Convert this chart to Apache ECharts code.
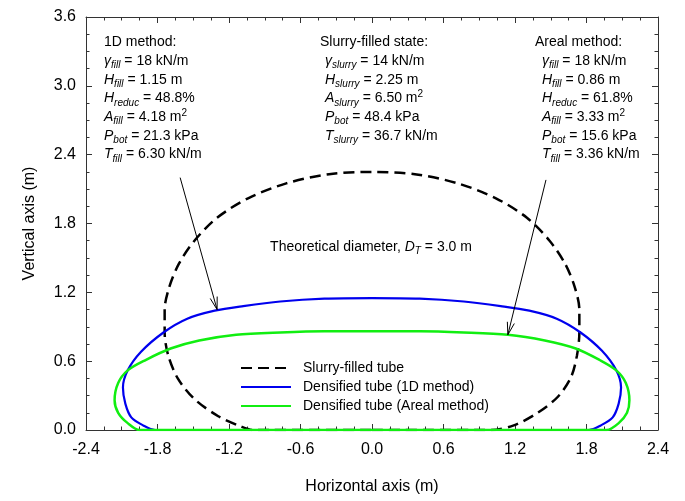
<!DOCTYPE html>
<html>
<head>
<meta charset="utf-8">
<script src="https://cdn.jsdelivr.net/npm/echarts@6/dist/echarts.min.js"></script>
<style>html,body{margin:0;padding:0;background:#fff;}#c{width:685px;height:501px;}</style>
</head>
<body>
<div id="c"></div>
<script>
// ---- data ----
const xTicks = [-2.4, -1.8, -1.2, -0.6, 0.0, 0.6, 1.2, 1.8, 2.4];
const yTicks = [0.0, 0.6, 1.2, 1.8, 2.4, 3.0, 3.6];
const seriesNames = ['Slurry-filled tube', 'Densified tube (1D method)', 'Densified tube (Areal method)'];

const slurryTube = [
  [0.00,0.00],[1.00,0.00],[1.19,0.04],[1.39,0.15],[1.56,0.29],[1.67,0.46],[1.72,0.65],[1.74,0.85],
  [1.74,1.05],[1.70,1.25],[1.62,1.45],[1.49,1.65],[1.30,1.85],[1.04,2.02],[0.72,2.15],[0.36,2.23],
  [0.00,2.25],[-0.36,2.23],[-0.72,2.15],[-1.04,2.02],[-1.30,1.85],[-1.49,1.65],[-1.62,1.45],[-1.70,1.25],
  [-1.74,1.05],[-1.74,0.85],[-1.71,0.65],[-1.63,0.45],[-1.49,0.27],[-1.29,0.12],[-1.10,0.03],[-1.00,0.00],[0.00,0.00]
];
const tube1D = [
  [0.00,0.00],[1.82,0.00],[1.92,0.04],[2.02,0.11],[2.07,0.23],[2.09,0.37],[2.05,0.52],[1.93,0.69],
  [1.75,0.85],[1.55,0.97],[1.32,1.04],[1.08,1.08],[0.77,1.12],[0.40,1.145],[0.00,1.15],
  [-0.40,1.145],[-0.77,1.12],[-1.08,1.08],[-1.32,1.04],[-1.55,0.97],[-1.75,0.85],[-1.94,0.68],
  [-2.05,0.52],[-2.09,0.37],[-2.07,0.23],[-2.02,0.11],[-1.92,0.04],[-1.82,0.00],[0.00,0.00]
];
const tubeAreal = [
  [0.00,0.00],[1.97,0.00],[2.07,0.06],[2.14,0.15],[2.16,0.26],[2.13,0.41],[2.05,0.52],[1.91,0.61],
  [1.71,0.71],[1.45,0.78],[1.14,0.83],[0.77,0.85],[0.40,0.86],[0.00,0.86],
  [-0.40,0.86],[-0.77,0.85],[-1.14,0.83],[-1.45,0.78],[-1.69,0.71],[-1.90,0.61],[-2.05,0.52],
  [-2.13,0.41],[-2.16,0.26],[-2.13,0.15],[-2.05,0.06],[-1.95,0.00],[0.00,0.00]
];
// arrows: [xStart, yStart, xTip, yTip]
const arrows = [
  [-1.61, 2.20, -1.30, 1.05],
  [ 1.46, 2.18,  1.14, 0.83]
];

// ---- styles ----
const F = '"Liberation Sans", Arial, sans-serif';
const LH = 18.7;
const rich = {
  n: {fontSize: 14, fontFamily: F, color: '#000', lineHeight: LH, verticalAlign: 'middle'},
  i: {fontSize: 14, fontFamily: F, color: '#000', fontStyle: 'italic', lineHeight: LH, verticalAlign: 'middle'},
  s: {fontSize: 10, fontFamily: F, color: '#000', fontStyle: 'italic', lineHeight: 9, verticalAlign: 'bottom'},
  p: {fontSize: 10, fontFamily: F, color: '#000', lineHeight: 9, verticalAlign: 'top'}
};
function txt(x, y, text, align) {
  return {type: 'text', x: x, y: y, z: 100,
    style: {text: text, rich: rich, fill: '#000', font: '14px ' + F,
      align: align || 'left', verticalAlign: 'top'}};
}

const block1 = [
  '{n|1D method:}',
  '{i|γ}{s|fill}{n| = 18 kN/m}',
  '{i|H}{s|fill}{n| = 1.15 m}',
  '{i|H}{s|reduc}{n| = 48.8%}',
  '{i|A}{s|fill}{n| = 4.18 m}{p|2}',
  '{i|P}{s|bot}{n| = 21.3 kPa}',
  '{i|T}{s|fill}{n| = 6.30 kN/m}'
].join('\n');
const block2 = [
  '{i|γ}{s|slurry}{n| = 14 kN/m}',
  '{i|H}{s|slurry}{n| = 2.25 m}',
  '{i|A}{s|slurry}{n| = 6.50 m}{p|2}',
  '{i|P}{s|bot}{n| = 48.4 kPa}',
  '{i|T}{s|slurry}{n| = 36.7 kN/m}'
].join('\n');
const block3 = [
  '{i|γ}{s|fill}{n| = 18 kN/m}',
  '{i|H}{s|fill}{n| = 0.86 m}',
  '{i|H}{s|reduc}{n| = 61.8%}',
  '{i|A}{s|fill}{n| = 3.33 m}{p|2}',
  '{i|P}{s|bot}{n| = 15.6 kPa}',
  '{i|T}{s|fill}{n| = 3.36 kN/m}'
].join('\n');

const axisCommon = {
  type: 'value', interval: 0.6,
  axisLine: {show: true, onZero: false, lineStyle: {color: '#333', width: 1}},
  axisTick: {show: true, inside: true, length: 6, lineStyle: {color: '#333'}},
  minorTick: {show: true, splitNumber: 4, length: 3.5, lineStyle: {color: '#333'}},
  splitLine: {show: false}, minorSplitLine: {show: false}
};
const lbl = {color: '#000', fontSize: 16, fontFamily: F, formatter: v => v.toFixed(1)};
const TOP = 33;

const option = {
  animation: false,
  backgroundColor: '#fff',
  grid: {left: 86, right: 27, top: 17, bottom: 71},
  xAxis: [
    Object.assign({}, axisCommon, {min: xTicks[0], max: xTicks[xTicks.length-1], position: 'bottom',
      axisLabel: Object.assign({margin: 12, showMinLabel: true, showMaxLabel: true}, lbl),
      name: 'Horizontal axis (m)', nameLocation: 'middle', nameGap: 49,
      nameTextStyle: {color: '#000', fontSize: 16, fontFamily: F}}),
    Object.assign({}, axisCommon, {min: xTicks[0], max: xTicks[xTicks.length-1], position: 'top',
      axisLabel: {show: false}})
  ],
  yAxis: [
    Object.assign({}, axisCommon, {min: yTicks[0], max: yTicks[yTicks.length-1], position: 'left',
      axisLabel: Object.assign({margin: 10, showMinLabel: true, showMaxLabel: true}, lbl),
      name: 'Vertical axis (m)', nameLocation: 'middle', nameGap: 48,
      nameTextStyle: {color: '#000', fontSize: 16, fontFamily: F}}),
    Object.assign({}, axisCommon, {min: yTicks[0], max: yTicks[yTicks.length-1], position: 'right',
      axisLabel: {show: false}})
  ],
  legend: {
    data: seriesNames, orient: 'vertical', left: 235, top: 356,
    itemWidth: 50, itemHeight: 14, itemGap: 5,
    itemStyle: {opacity: 0},
    textStyle: {color: '#000', fontSize: 14, fontFamily: F, padding: [0, 0, 0, 7]}
  },
  series: [
    {name: seriesNames[0], type: 'line', data: slurryTube, showSymbol: false, symbol: 'none', smooth: 0.3,
      lineStyle: {color: '#000', width: 2.5, type: [11, 6]}, itemStyle: {color: '#000'}, z: 3},
    {name: seriesNames[1], type: 'line', data: tube1D, showSymbol: false, symbol: 'none', smooth: 0.3,
      lineStyle: {color: '#0000ee', width: 2.2}, itemStyle: {color: '#0000ee'}, z: 4},
    {name: seriesNames[2], type: 'line', data: tubeAreal, showSymbol: false, symbol: 'none', smooth: 0.3,
      lineStyle: {color: '#11ee11', width: 2.5}, itemStyle: {color: '#11ee11'}, z: 5},
    {name: 'arrows', type: 'custom', data: arrows, z: 6, silent: true,
      renderItem: function (params, api) {
        const a = api.coord([api.value(0), api.value(1)]);
        const b = api.coord([api.value(2), api.value(3)]);
        const ang = Math.atan2(b[1] - a[1], b[0] - a[0]);
        const L = 13, w = 0.28;
        const h1 = [b[0] - L * Math.cos(ang - w), b[1] - L * Math.sin(ang - w)];
        const h2 = [b[0] - L * Math.cos(ang + w), b[1] - L * Math.sin(ang + w)];
        return {type: 'group', children: [
          {type: 'line', shape: {x1: a[0], y1: a[1], x2: b[0], y2: b[1]}, style: {stroke: '#000', lineWidth: 1}},
          {type: 'polyline', shape: {points: [h1, b, h2]}, style: {stroke: '#000', lineWidth: 1, fill: null}}
        ]};
      }}
  ],
  graphic: [
    txt(104, TOP, block1),
    txt(374, TOP, '{n|Slurry-filled state:}', 'center'),
    txt(325, TOP + LH, block2),
    txt(535, TOP, '{n|Areal method:}'),
    txt(542, TOP + LH, block3),
    txt(371, 238, '{n|Theoretical diameter, }{i|D}{s|T}{n| = 3.0 m}', 'center')
  ]
};
const chart = echarts.init(document.getElementById('c'), null, {renderer: 'canvas'});
chart.setOption(option);
</script>
</body>
</html>
